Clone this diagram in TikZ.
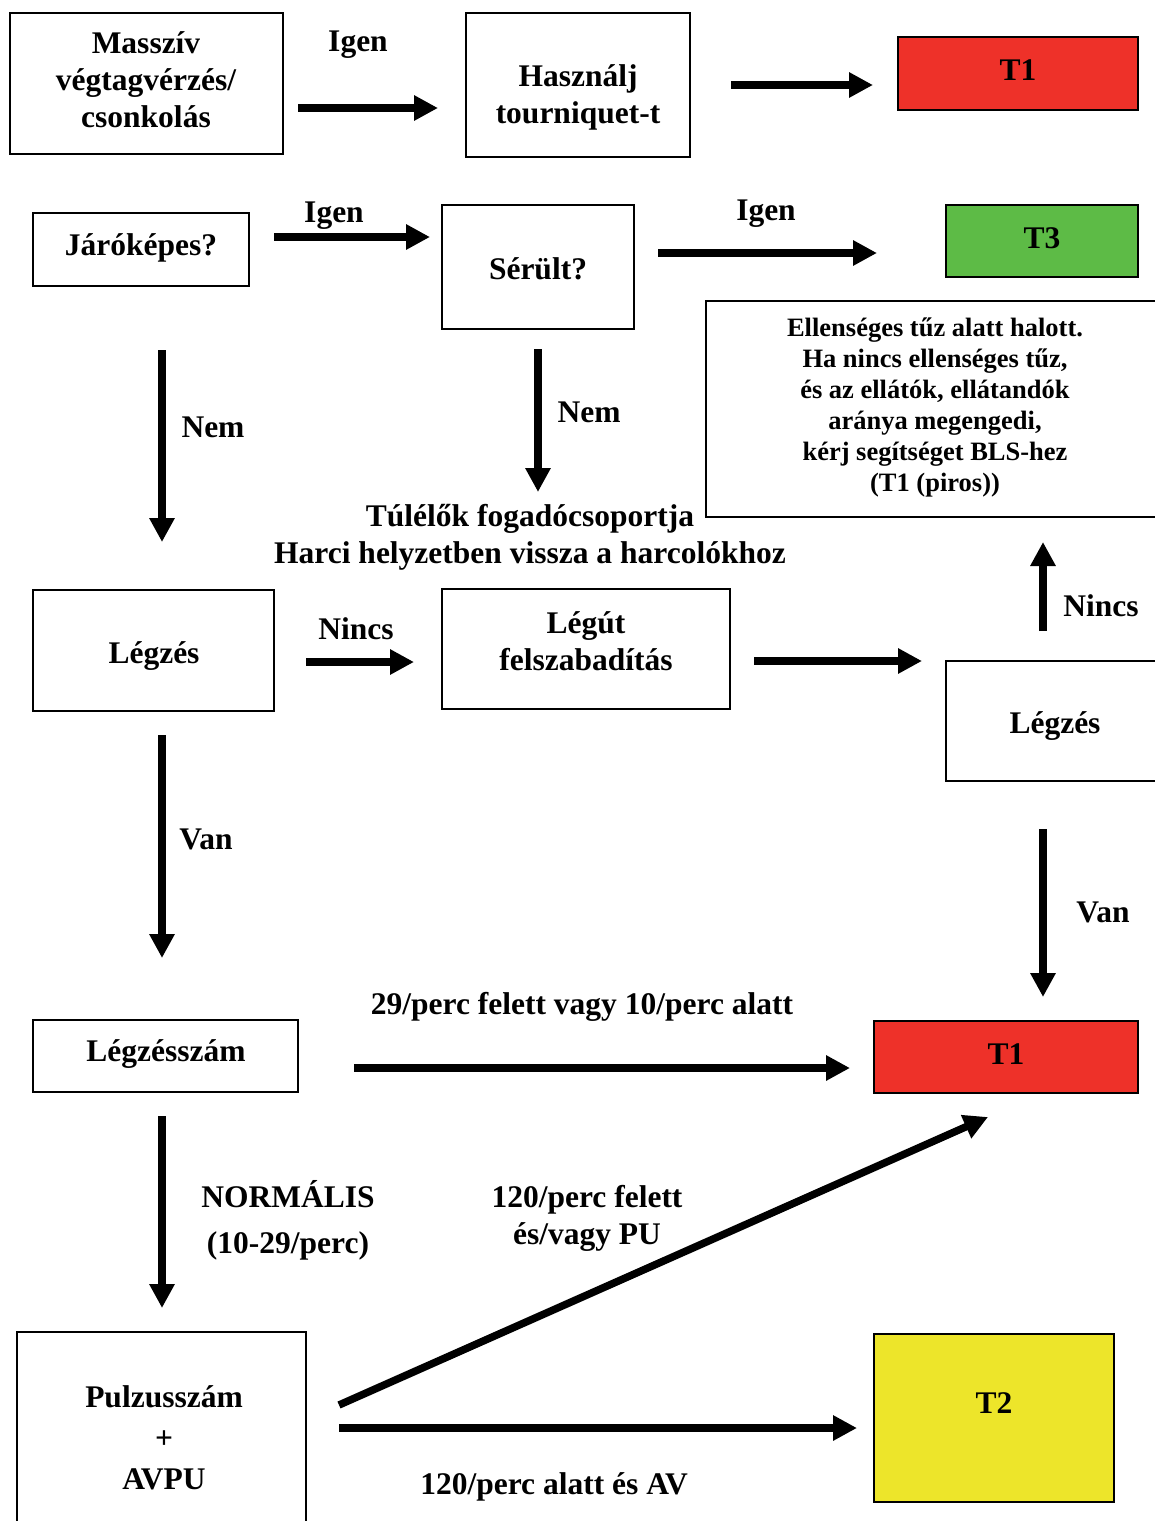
\documentclass[tikz,border=0pt]{standalone}
\usepackage{fontspec}
\setmainfont{Liberation Serif}
\usetikzlibrary{arrows.meta}
\definecolor{tred}{RGB}{238,49,41}
\definecolor{tgreen}{RGB}{93,187,70}
\definecolor{tyellow}{RGB}{237,229,42}
\begin{document}
\begin{tikzpicture}[x=1pt,y=-1pt,
  box/.style={draw, line width=2.5pt, inner sep=0pt},
  txt/.style={inner sep=0pt, align=center, yshift=-2pt, font=\bfseries\fontsize{31.5}{37}\selectfont},
  small/.style={inner sep=0pt, align=center, font=\bfseries\fontsize{26.5}{31}\selectfont},
  arr/.style={line width=7.5pt, -{Triangle[length=24pt,width=24pt]}}]
\useasboundingbox (0,0) rectangle (1155,1521);
\fill[white] (0,0) rectangle (1155,1521);

% boxes
\node[box, minimum width=273, minimum height=141] (mass) at (146.5,83.5) {};
\node[txt] (massT) at (146,78) {Masszív\\végtagvérzés/\\csonkolás};
\node[box, minimum width=224, minimum height=144] (hasz) at (578,85) {};
\node[txt] (haszT) at (578,95) {Használj\\tourniquet-t};
\node[box, fill=tred, minimum width=240, minimum height=73] (t1a) at (1018,73.5) {};
\node[txt] (t1aT) at (1018,68) {T1};
\node[box, minimum width=216, minimum height=73] (jaro) at (141,249.5) {};
\node[txt] (jaroT) at (141,246) {Járóképes?};
\node[box, minimum width=192, minimum height=124] (seru) at (538,267) {};
\node[txt] (seruT) at (538,267) {Sérült?};
\node[box, fill=tgreen, minimum width=192, minimum height=72] (t3) at (1042,241) {};
\node[txt] (t3T) at (1042,236) {T3};
\node[box, minimum width=454, minimum height=216] (elle) at (933,409) {};
\node[small] (elleT) at (935,407) {Ellenséges tűz alatt halott.\\Ha nincs ellenséges tűz,\\és az ellátók, ellátandók\\aránya megengedi,\\kérj segítséget BLS-hez\\(T1 (piros))};
\node[box, minimum width=241, minimum height=121] (legz1) at (153.5,650.5) {};
\node[txt] (legz1T) at (154,654) {Légzés};
\node[box, minimum width=288, minimum height=120] (legut) at (586,649) {};
\node[txt] (legutT) at (586,639) {Légút\\felszabadítás};
\node[box, minimum width=214, minimum height=120] (legz2) at (1053,721) {};
\node[txt] (legz2T) at (1055,724) {Légzés};
\node[box, minimum width=265, minimum height=72] (lszam) at (165.5,1056) {};
\node[txt] (lszamT) at (166,1052) {Légzésszám};
\node[box, fill=tred, minimum width=264, minimum height=72] (t1b) at (1006,1057) {};
\node[txt] (t1bT) at (1006,1052) {T1};
\node[box, minimum width=289, minimum height=208] (pulz) at (161.5,1436) {};
\node[txt, font=\bfseries\fontsize{31.5}{41}\selectfont] (pulzT) at (164,1436) {Pulzusszám\\+\\AVPU};
\node[box, fill=tyellow, minimum width=240, minimum height=168] (t2) at (994,1418) {};
\node[txt] (t2T) at (994,1401) {T2};

% free text
\node[txt] (tul) at (530,535) {Túlélők fogadócsoportja\\Harci helyzetben vissza a harcolókhoz};

% labels
\node[txt] (l1) at (358,43) {Igen};
\node[txt] (l2) at (334,214) {Igen};
\node[txt] (l3) at (766,212) {Igen};
\node[txt] (l4) at (213,425) {Nem};
\node[txt] (l5) at (589,410) {Nem};
\node[txt] (l6) at (356,627) {Nincs};
\node[txt] (l7) at (1101,604) {Nincs};
\node[txt] (l8) at (206,837) {Van};
\node[txt] (l9) at (1103,910) {Van};
\node[txt] (l10) at (582,1005) {29/perc felett vagy 10/perc alatt};
\node[txt, font=\bfseries\fontsize{31.5}{46}\selectfont] (l11) at (288,1218) {NORMÁLIS\\(10-29/perc)};
\node[txt] (l12) at (587,1216) {120/perc felett\\és/vagy PU};
\node[txt] (l13) at (554,1485) {120/perc alatt és AV};

% arrow end points
\coordinate (a1s) at (298,108);  \coordinate (a1e) at (438,108);
\coordinate (a2s) at (731,85);   \coordinate (a2e) at (873,85);
\coordinate (a3s) at (274,237);  \coordinate (a3e) at (430,237);
\coordinate (a4s) at (658,253);  \coordinate (a4e) at (877,253);
\coordinate (a5s) at (162,350);  \coordinate (a5e) at (162,542);
\coordinate (a6s) at (538,349);  \coordinate (a6e) at (538,492);
\coordinate (a7s) at (306,662);  \coordinate (a7e) at (414,662);
\coordinate (a8s) at (754,661);  \coordinate (a8e) at (922,661);
\coordinate (a9s) at (1043,631); \coordinate (a9e) at (1043,542);
\coordinate (a10s) at (162,735); \coordinate (a10e) at (162,958);
\coordinate (a11s) at (1043,829);\coordinate (a11e) at (1043,997);
\coordinate (a12s) at (354,1068);\coordinate (a12e) at (850,1068);
\coordinate (a13s) at (162,1116);\coordinate (a13e) at (162,1308);
\coordinate (a14s) at (339,1405);\coordinate (a14e) at (988,1117);
\coordinate (a15s) at (339,1428);\coordinate (a15e) at (857,1428);

\foreach \i in {1,...,15} \draw[arr] (a\i s) -- (a\i e);
\end{tikzpicture}
\end{document}
